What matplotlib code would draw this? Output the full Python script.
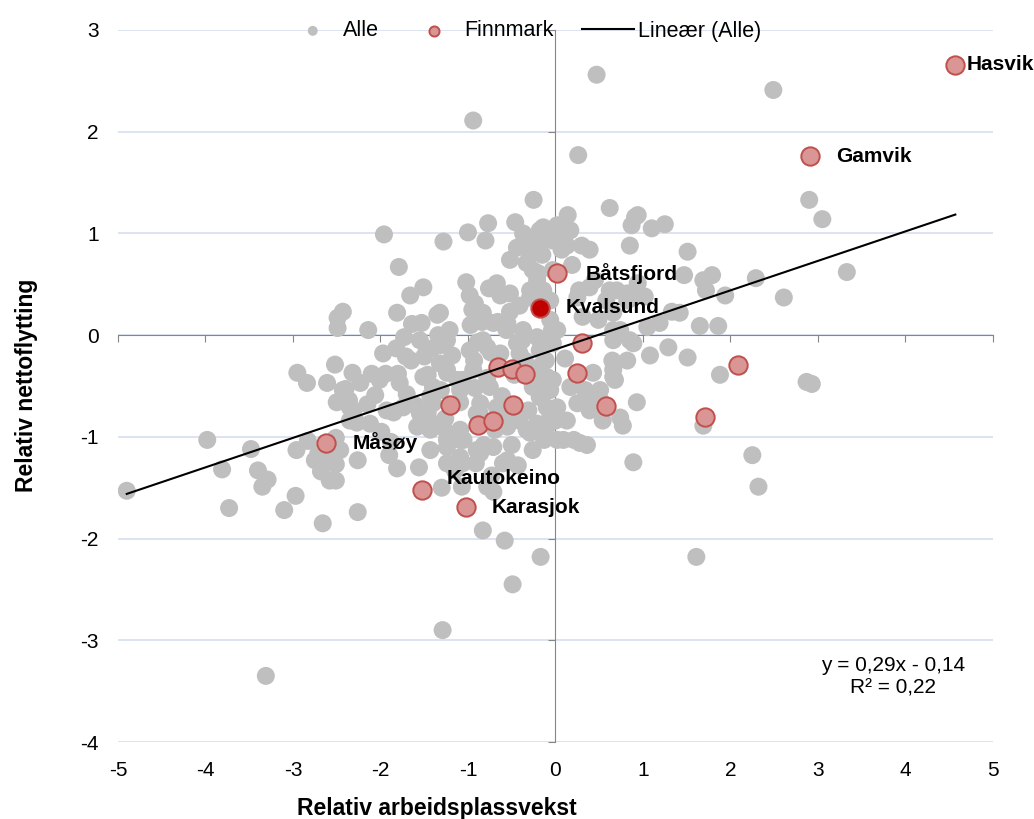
import matplotlib.pyplot as plt

plt.rcParams['font.family'] = ['Liberation Sans', 'DejaVu Sans']
plt.rcParams['axes.unicode_minus'] = False

# alle kommuner (grå)
x_alle = [-4.9, -3.98, -3.81, -3.73, -3.48, -3.40, -3.35, -3.29, -3.31, -3.10, -2.95, -2.84, -2.97, -2.96,
          -2.83, -2.75, -2.68, -2.66, -2.58, -2.51, -2.51, -2.51, -2.51, -2.52, -2.50, -2.49, -2.43, -2.49,
          -2.40, -2.36, -2.31, -2.26, -2.26, -2.27, -2.15, -2.14, -2.10, -2.06, -1.99, -1.96, -1.97, -1.94,
          -1.90, -1.88, -1.85, -1.82, -1.79, -1.80, -1.78, -1.73, -1.71, -1.70, -1.66, -1.65, -1.64, -1.60,
          -1.56, -1.51, -1.55, -1.50, -1.46, -1.46, -1.43, -1.43, -1.41, -1.35, -1.34, -1.32, -1.31, -1.30,
          -1.29, -1.28, -1.26, -1.24, -1.21, -1.18, -1.15, -1.12, -1.09, -1.07, -1.05, -1.02, -1.00, -0.98,
          -0.97, -0.95, -0.94, -0.93, -0.92, -0.91, -0.89, -0.87, -0.84, -0.83, -0.82, -0.80, -0.78, -0.77,
          -0.76, -0.74, -0.73, -0.71, -0.69, -0.67, -0.66, -0.63, -0.61, -0.58, -0.56, -0.54, -0.52, -0.50,
          -0.49, -0.47, -0.46, -0.44, -0.43, -0.41, -0.38, -0.37, -0.35, -0.33, -0.31, -0.29, -0.27, -0.25,
          -0.23, -0.21, -0.20, -0.18, -0.17, -0.15, -0.13, -0.11, -0.09, -0.06, -0.04, -0.03, 0.00, 0.05,
          0.07, 0.11, 0.14, 0.17, 0.19, 0.21, 0.26, 0.27, 0.30, 0.34, 0.36, 0.39, 0.45, 0.47, 0.49, 0.51,
          0.54, 0.58, 0.62, 0.65, 0.68, 0.74, 0.77, 0.82, 0.85, 0.89, 0.91, 0.93, 0.94, 1.02, 1.08, 1.10,
          1.19, 1.25, 1.29, 1.33, 1.42, 1.47, 1.51, 1.51, 1.61, 1.65, 1.69, 1.72, 1.79, 1.86, 1.88, 1.94,
          2.25, 2.29, 2.32, 2.49, 2.61, 2.90, 2.87, 2.93, 3.05, 3.33,
          -0.14, 0.02, -0.29, -0.18, -0.03, 0.13, -0.26, -0.21, -0.52, 0.39, 0.70, 0.89, -0.29, -0.14,
          0.25, -1.32, -0.83, -0.52, -0.06, 0.31, 0.66, -0.55, -0.37, 0.02, 0.66, -0.92, -1.81, -1.53,
          -0.71, -2.32, -1.47, -1.32, -0.98, -0.78, -0.63, -0.41, -0.18, -2.61, -2.43, -2.23, -2.01, -1.51,
          -1.40, -1.24, -1.06, -0.75, -0.26, -0.10, -2.35, -1.93, -1.74, -1.55, -1.40, -0.90, -0.63, -0.10,
          -2.35, -2.12, -1.58, -1.40, -1.24, -1.09, -0.55, -0.33, -0.10, -2.46, -1.81, -1.43, -1.24, -1.09,
          -0.90, -0.71, -0.55, -0.26, -0.78, -1.24, -0.83, -0.44, -0.21, -0.03, 0.66, 0.89, 0.82, -1.24,
          -0.94, -0.18, -0.03, 0.43, 0.66, -1.09, -0.26, -0.06, 0.17, -0.86, -0.67, -0.18, 0.02, 0.25,
          0.39, 0.74, -0.41, -0.21, -0.06, 0.13, -1.09, -0.29, 0.09, 0.28, -0.86, -0.60, -1.24, -1.06,
          0.94, 0.87, 1.69, 0.62, 0.82, 0.85, 1.05, 0.66, 0.51, 0.43, 0.02, -2.71, -2.58]
y_alle = [-1.53, -1.03, -1.32, -1.70, -1.12, -1.33, -1.49, -1.42, -3.35, -1.72, -0.37, -0.47, -1.58, -1.13,
          -1.04, -1.23, -1.34, -1.85, -1.21, -1.12, -1.01, -1.27, -1.43, -0.29, -0.66, 0.17, 0.23, 0.07,
          -0.53, -0.64, -0.74, -1.23, -1.74, -0.86, -0.68, 0.05, -0.38, -0.59, -0.95, 0.99, -0.18, -0.38,
          -1.18, -1.05, -0.76, -0.13, 0.67, -0.38, -0.47, -0.02, -0.21, -0.58, 0.39, -0.25, 0.11, -0.69,
          -1.30, 0.47, -0.05, -0.21, -0.39, -0.76, -0.60, -0.93, -0.13, 0.20, 0.00, -0.28, -0.54, -1.50,
          -2.90, 0.92, -0.82, -1.03, 0.05, -0.20, -1.33, -0.44, -0.66, -1.49, -1.03, 0.52, 1.01, 0.39,
          0.10, 0.25, 2.11, -0.25, -0.52, -1.26, -0.07, -0.76, 0.13, -1.92, -1.08, 0.93, -0.42, 1.10,
          0.46, -0.17, -1.38, -1.54, -0.93, 0.51, 0.13, 0.39, -0.60, -2.02, 0.05, -0.84, 0.74, -1.08,
          -2.45, -0.39, 1.11, 0.86, -1.28, 0.29, -0.05, 1.00, -0.25, 0.71, -0.74, 0.44, 0.93, 1.33,
          -0.49, -0.93, 0.61, 1.03, -2.18, 0.79, -1.03, -0.25, 1.01, 0.34, 0.05, 0.64, -0.84, 0.93,
          0.84, -0.23, 1.18, 1.03, 0.69, -1.03, 1.77, 0.44, 0.88, -0.54, -1.08, 0.84, 0.54, 2.56, 0.15, -0.64,
          -0.84, 0.34, 1.25, -0.25, -0.44, 0.05, -0.89, 0.34, 0.88, -1.25, 1.16, -0.66, 0.51, 0.38, -0.20, 1.05,
          0.12, 1.09, -0.12, 0.23, 0.22, 0.59, 0.82, -0.22, -2.18, 0.09, -0.89, 0.44, 0.59, 0.09, -0.39, 0.39,
          -1.18, 0.56, -1.49, 2.41, 0.37, 1.33, -0.46, -0.48, 1.14, 0.62,
          1.06, 1.08, 0.79, 0.90, 0.93, 0.88, 0.64, 0.54, 0.41, 0.47, 0.44, 0.37, 0.37, 0.44,
          0.37, 0.22, 0.22, 0.23, 0.15, 0.18, 0.22, 0.12, 0.05, 0.05, 0.05, 0.31, 0.22, 0.12,
          0.12, -0.37, -0.15, -0.10, -0.15, -0.12, -0.18, -0.18, -0.15, -0.47, -0.54, -0.47, -0.44, -0.41,
          -0.51, -0.37, -0.44, -0.51, -0.44, -0.41, -0.71, -0.74, -0.71, -0.77, -0.67, -0.77, -0.74, -0.71,
          -0.84, -0.87, -0.90, -0.87, -0.96, -0.93, -0.90, -0.93, -0.90, -1.13, -1.31, -1.13, -1.10, -1.20,
          -1.13, -1.10, -1.23, -1.13, -1.49, -0.05, -0.05, -0.08, -0.02, -0.08, -0.05, -0.08, -0.25, -0.34,
          -0.34, -0.31, -0.44, -0.37, -0.34, -0.54, -0.51, -0.54, -0.51, -0.67, -0.71, -0.61, -0.71, -0.67,
          -0.74, -0.81, -0.84, -0.87, -0.81, -0.84, -1.03, -0.96, -1.03, -1.06, -1.16, -1.26, -1.26, -1.26,
          1.18, 1.08, 0.54, 0.44, 0.41, -0.05, 0.08, -0.41, -0.54, -0.61, -1.03, -1.16, -1.43]

# Finnmark-kommuner
fm_x = [4.57, 2.91, 0.02, 0.30, 0.25, -0.66, -0.50, -0.35, -1.21, -0.49, 0.58, -0.89, -0.71,
        2.09, 1.71, -2.62, -1.53, -1.02]
fm_y = [2.66, 1.76, 0.61, -0.08, -0.37, -0.31, -0.33, -0.38, -0.69, -0.69, -0.70, -0.88, -0.84,
        -0.29, -0.80, -1.06, -1.52, -1.69]
kvalsund = (-0.18, 0.27)

# navn som vises, med forskyvning i piksler
navn = {
    'Hasvik': (4.57, 2.66, 11, 0),
    'Gamvik': (2.91, 1.76, 26, 0),
    'Båtsfjord': (0.02, 0.61, 28, 0),
    'Kvalsund': (-0.18, 0.27, 26, 0),
    'Måsøy': (-2.62, -1.06, 26, 0),
    'Kautokeino': (-1.53, -1.52, 25, 11),
    'Karasjok': (-1.02, -1.69, 25, 0),
}

slope, intercept = 0.29, -0.14

fig = plt.figure(figsize=(10.34, 8.19), dpi=100)
ax = fig.add_axes([0.1141, 0.094, 0.8462, 0.8694])

ax.scatter(x_alle, y_alle, s=168, color='#bfbfbf', edgecolors='none', label='Alle', zorder=2)
ax.scatter(fm_x, fm_y, s=175, color='#d99694', edgecolors='#c0504d', linewidths=1.4,
           label='Finnmark', zorder=3)
ax.scatter([kvalsund[0]], [kvalsund[1]], s=175, color='#c00000', edgecolors='#c0504d',
           linewidths=1.4, zorder=4)

lx = [min(x_alle), max(fm_x)]
ly = [slope * v + intercept for v in lx]
ax.plot(lx, ly, color='black', lw=1.5, label='Lineær (Alle)', zorder=5)

for t, (px, py, dx, dy) in navn.items():
    ax.annotate(t, (px, py), xytext=(dx, dy), textcoords='offset pixels', ha='left', va='center',
                fontsize=15, fontweight='bold', zorder=6)

ax.set_xlim(-5, 5)
ax.set_ylim(-4, 3)
ax.set_xticks(range(-5, 6))
ax.set_yticks(range(-4, 4))
ax.yaxis.grid(True, color='#d9e2f1', lw=1.3)
ax.set_axisbelow(True)

for s in ['top', 'right']:
    ax.spines[s].set_visible(False)
ax.spines['left'].set_position(('data', 0))
ax.spines['bottom'].set_position(('data', 0))
ax.spines['left'].set_color('#868686')
ax.spines['bottom'].set_color('#868686')
ax.spines['left'].set_zorder(1)
ax.spines['bottom'].set_zorder(1)
ax.tick_params(direction='out', length=5, color='#868686', labelbottom=False, labelleft=False)

secx = ax.secondary_xaxis('bottom')
secx.set_xticks(range(-5, 6))
secx.tick_params(length=0, pad=14, labelsize=15)
secx.spines['bottom'].set_visible(False)
secy = ax.secondary_yaxis('left')
secy.set_yticks(range(-4, 4))
secy.tick_params(length=0, pad=14, labelsize=15)
secy.spines['left'].set_visible(False)

ax.text(3.86, -3.245, 'y = 0,29x - 0,14', ha='center', va='center', fontsize=15)
ax.text(3.86, -3.47, 'R² = 0,22', ha='center', va='center', fontsize=15)

fig.text(0.4226, 0.0134, 'Relativ arbeidsplassvekst', ha='center', va='center',
         fontsize=16.5, fontweight='bold')
fig.text(0.026, 1 - 385 / 819, 'Relativ nettoflytting', ha='center', va='center',
         rotation=90, fontsize=16.5, fontweight='bold')

fig.legend(loc='center', bbox_to_anchor=(0.507, 1 - 31 / 819), ncol=3, frameon=False,
           fontsize=15.5, markerscale=0.55, handlelength=2.4, handletextpad=0.2,
           columnspacing=1.35)

fig.savefig('out.png', dpi=100)
